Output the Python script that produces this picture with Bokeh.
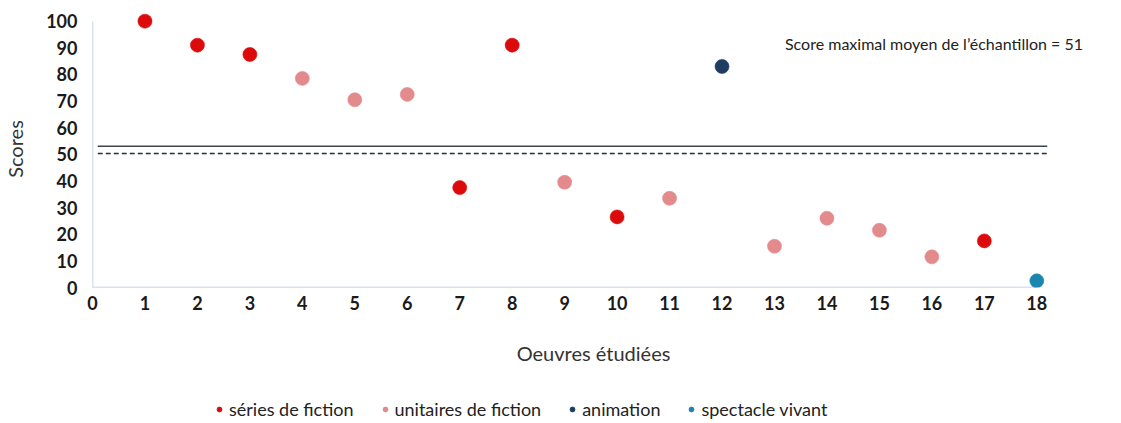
from bokeh.plotting import figure
from bokeh.layouts import column
from bokeh.models import Range1d, Label, Legend, LegendItem, FixedTicker
from bokeh.embed import file_html
from bokeh.resources import INLINE

# Data
oeuvres = list(range(1, 19))
scores = [100, 91, 87.5, 78.5, 70.5, 72.5, 37.5, 91, 39.5, 26.5, 33.5, 83, 15.5, 26, 21.5, 11.5, 17.5, 2.5]
types = ["séries de fiction", "séries de fiction", "séries de fiction",
         "unitaires de fiction", "unitaires de fiction", "unitaires de fiction",
         "séries de fiction", "séries de fiction", "unitaires de fiction",
         "séries de fiction", "unitaires de fiction", "animation",
         "unitaires de fiction", "unitaires de fiction", "unitaires de fiction",
         "unitaires de fiction", "séries de fiction", "spectacle vivant"]
categories = ["séries de fiction", "unitaires de fiction", "animation", "spectacle vivant"]
colors = ["#DC0A0A", "#E38A8C", "#1F3D63", "#1A86B0"]
line_solid = 53
line_dashed = 50.3
annotation = "Score maximal moyen de l\u2019échantillon = 51"
x_ticks = list(range(0, 19))
y_ticks = list(range(0, 101, 10))

FONT = "Lato"
AXIS_COLOR = "#B4C7E0"

p = figure(width=1100, height=370, output_backend="svg", toolbar_location=None,
           x_range=Range1d(0, 19.1), y_range=Range1d(0, 104),
           min_border_left=92, min_border_right=6, min_border_top=10, min_border_bottom=83)
p.outline_line_color = None
p.grid.visible = False

for ax in (p.xaxis[0], p.yaxis[0]):
    ax.axis_line_color = None
    ax.major_tick_line_color = None
    ax.minor_tick_line_color = None
    ax.major_label_text_font = FONT
    ax.major_label_text_font_style = "bold"
    ax.major_label_text_font_size = "18px"
    ax.major_label_text_color = "#1a1a1a"
    ax.axis_label_text_font = FONT
    ax.axis_label_text_font_style = "normal"
    ax.axis_label_text_font_size = "20px"
    ax.axis_label_text_color = "#333333"

p.xaxis.ticker = FixedTicker(ticks=x_ticks)
p.yaxis.ticker = FixedTicker(ticks=y_ticks)
p.xaxis.axis_label = "Oeuvres étudiées"
p.yaxis.axis_label = "Scores"
p.xaxis.major_label_standoff = 2
p.xaxis.axis_label_standoff = 28
p.yaxis.major_label_standoff = 9
p.yaxis.axis_label_standoff = 16

# axis lines limited to the data extent
p.line([0, max(x_ticks)], [0, 0], line_color=AXIS_COLOR, line_width=1.5)
p.line([0, 0], [0, max(y_ticks)], line_color=AXIS_COLOR, line_width=1.5)

xmin, xmax = 0.1, max(oeuvres) + 0.2
p.line([xmin, xmax], [line_solid, line_solid], line_color="#3b4650", line_width=1.5)
p.line([xmin, xmax], [line_dashed, line_dashed], line_color="#2a2f36", line_width=1.5, line_dash="5 3")

for cat, col in zip(categories, colors):
    xs = [x for x, t in zip(oeuvres, types) if t == cat]
    ys = [y for y, t in zip(scores, types) if t == cat]
    p.scatter(xs, ys, size=14, fill_color=col, line_color=col, line_alpha=0.6)

p.add_layout(Label(x=13.2, y=91.5, text=annotation, text_font=FONT, text_font_size="16px",
                   text_color="#222222", text_baseline="middle"))

# legend strip (separate figure so the legend is not clipped); its renderers
# hold the same data but its ranges keep them out of view
lg = figure(width=1100, height=50, output_backend="svg", toolbar_location=None,
            x_range=Range1d(1000, 1001), y_range=Range1d(1000, 1001),
            min_border_left=0, min_border_right=0, min_border_top=0, min_border_bottom=0)
lg.outline_line_color = None
lg.axis.visible = False
lg.grid.visible = False
items = []
for cat, col in zip(categories, colors):
    xs = [x for x, t in zip(oeuvres, types) if t == cat]
    ys = [y for y, t in zip(scores, types) if t == cat]
    r = lg.scatter(xs, ys, size=12, fill_color=col, line_color=col)
    items.append(LegendItem(label=cat, renderers=[r]))
legend = Legend(items=items, orientation="horizontal", location=(121, 0),
                label_text_font=FONT, label_text_font_size="18px", label_text_color="#222222",
                glyph_width=12, glyph_height=12, label_standoff=4, spacing=25,
                border_line_color=None, background_fill_alpha=0, margin=0, padding=0)
lg.add_layout(legend)

open("out.html", "w").write(file_html(column(p, lg), INLINE))
